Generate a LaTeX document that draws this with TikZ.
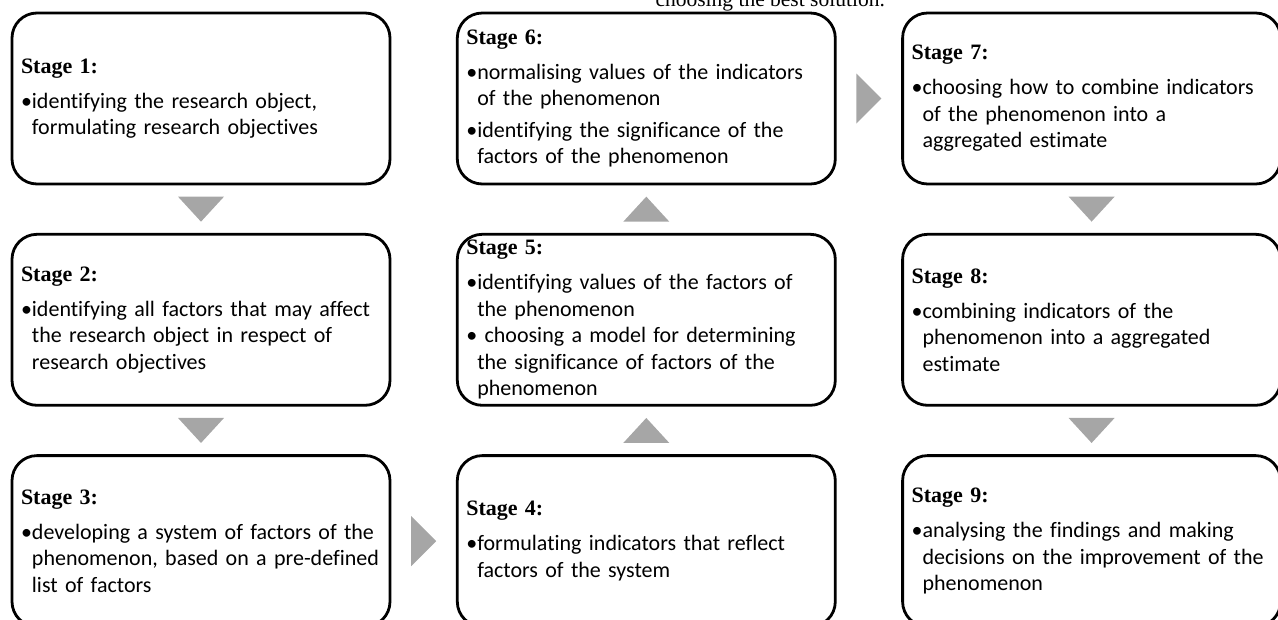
\documentclass[tikz,border=0pt]{standalone}
\usepackage{fontspec}
\setmainfont{Carlito}[Ligatures=CommonOff]
\newfontfamily\headfont{Liberation Serif}
\usetikzlibrary{positioning, calc}

\definecolor{arrowgray}{HTML}{A6A6A6}
\newlength\bulletwd
\newcommand{\bodyfont}{\fontsize{22}{26.5}\selectfont}
\newcommand{\stagehead}[1]{{\headfont\bfseries\fontsize{22}{26}\selectfont #1}\par\vspace{8.5pt}}
\newcommand{\stageitem}[1]{\begingroup\let\\\newline\settowidth{\bulletwd}{\textbullet}%
  \hangindent=\bulletwd\hangafter=1\noindent\textbullet#1\par\endgroup}

\begin{document}
\begin{tikzpicture}[x=1pt, y=-1pt, node distance=47.5pt and 64.5pt,
  stagebox/.style={draw, line width=2.8pt, rounded corners=25pt, minimum height=171pt,
    text width=360pt, inner xsep=9pt, inner ysep=0pt, align=left, font=\bodyfont},
  tri/.style={fill=arrowgray}]
  \def\triw{23}
  \def\trih{12.5}
  \clip (0,0) rectangle (1278,619);
  \node[anchor=base west, font=\headfont\fontsize{21.5}{24}\selectfont] (note) at (652,6) {choosing the best solution.};
  \node[stagebox] (s1) at (201,98.5) {\stagehead{Stage 1:}\stageitem{identifying the research object,\\ formulating research objectives}};
  \node[stagebox, below=of s1] (s2) {\stagehead{Stage 2:}\stageitem{identifying all factors that may affect\\ the research object in respect of\\ research objectives}};
  \node[stagebox, below=of s2] (s3) {\stagehead{Stage 3:}\stageitem{developing a system of factors of the\\ phenomenon, based on a pre-defined\\ list of factors}};
  \node[stagebox, right=of s3] (s4) {\stagehead{Stage 4:}\stageitem{formulating indicators that reflect\\ factors of the system}};
  \node[stagebox, above=of s4] (s5) {\stagehead{Stage 5:}\stageitem{identifying values of the factors of\\ the phenomenon}\stageitem{\ choosing a model for determining\\ the significance of factors of the\\ phenomenon}};
  \node[stagebox, above=of s5] (s6) {\stagehead{Stage 6:}\stageitem{normalising values of the indicators\\ of the phenomenon}\vspace{5pt}\stageitem{identifying the significance of the\\ factors of the phenomenon}};
  \node[stagebox, right=of s6] (s7) {\stagehead{Stage 7:}\stageitem{choosing how to combine indicators\\ of the phenomenon into a\\ aggregated estimate}};
  \node[stagebox, below=of s7] (s8) {\stagehead{Stage 8:}\stageitem{combining indicators of the\\ phenomenon into a aggregated\\ estimate}};
  \node[stagebox, below=of s8] (s9) {\stagehead{Stage 9:}\stageitem{analysing the findings and making\\ decisions on the improvement of the\\ phenomenon}};
  \foreach \a/\b in {s1/s2, s2/s3, s7/s8, s8/s9} {
    \coordinate (m) at ($(\a.south)!0.5!(\b.north)$);
    \fill[tri] ($(m)+(-\triw,-\trih)$) -- ($(m)+(\triw,-\trih)$) -- ($(m)+(0,\trih)$) -- cycle;
  }
  \foreach \a/\b in {s4/s5, s5/s6} {
    \coordinate (m) at ($(\a.north)!0.5!(\b.south)$);
    \fill[tri] ($(m)+(-\triw,\trih)$) -- ($(m)+(\triw,\trih)$) -- ($(m)+(0,-\trih)$) -- cycle;
  }
  \foreach \a/\b in {s3/s4, s6/s7} {
    \coordinate (m) at ($(\a.east)!0.5!(\b.west)$);
    \fill[tri] ($(m)+(-\trih,-25)$) -- ($(m)+(-\trih,25)$) -- ($(m)+(\trih,0)$) -- cycle;
  }
\end{tikzpicture}
\end{document}
